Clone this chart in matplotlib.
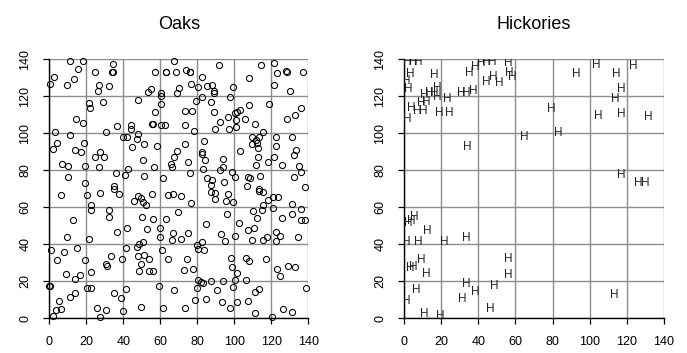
import numpy as np
import matplotlib
matplotlib.use("Agg")
import matplotlib.pyplot as plt

plt.rcParams['font.family'] = ['Liberation Sans', 'DejaVu Sans']

# oak locations (x, y)
oak_x = [
    0.4, 2.7, 11.4, 18, 15.7, 13.3, 9.7, 24.7, 34.4, 34, 34.3, 27, 32, 26.1, 21.6, 21.8, 28.8,
    14.2, 18.2, 3.1, 11.2, 4, 1.8, 13.7, 16.9, 18.7, 30.6, 36.8, 27.4, 24.7, 29.7, 6.7, 10.3,
    19.5, 26.8, 10.3, 19.1, 34.8, 35, 36.2, 40.7, 42.3, 39.8, 42, 44.1, 43.9, 47.6, 47.9, 44.5,
    51.2, 50.5, 51.4, 47.7, 53.5, 54.9, 56.9, 60.5, 60.4, 60.4, 57, 55.5, 55.9, 60.2, 62.7, 58.2,
    56.6, 61.5, 62.9, 63.2, 67.6, 68.7, 73.9, 76, 76.3, 70.1, 68.8, 76.4, 73.2, 77, 79.2, 73.5,
    78.4, 73.5, 68.8, 67.2, 65.9, 66.1, 75.2, 76.1, 80.2,
    82.5, 91.9, 85.4, 87.7, 88.8, 88.8, 99.5, 82.4, 87.4, 97.7, 89, 92.4, 89.4, 96.6, 96.9,
    100.5, 101.3, 103.1, 100.7, 100.7, 105.8, 108.1, 111, 115.3, 118.9, 114.2, 108.1, 121.6,
    123.2, 128.1, 128.3, 137.3, 121.6, 130, 128.5, 132.6, 135.8, 122.7, 131.1, 109.6, 113.2,
    111.7, 109.6, 112.5, 113, 102.9, 112.8, 118, 111.5, 121.6, 122.4, 125.8, 133.4, 132, 135.2,
    135.9, 132.1, 138.1, 114, 107.2, 108.3, 106.9, 100.6, 98.6, 94.4, 92, 93.9, 93.9, 87.7, 87.4,
    85, 82.9, 84.1, 82.4, 82.5, 83.4, 113.5,
    6.3, 20.5, 27.2, 37.7, 22.5, 22.5, 32.4, 32.3, 12.6, 36.6, 41.8, 9.4, 21.3, 1.1, 4, 7.9,
    15.1, 19.5, 22.3, 9.2, 14.1, 16.8, 30.5, 31.4, 33.3, 39.1, 41.6, 0, 0.3, 20.4, 22.7, 41.6,
    35.1, 39, 14.1, 11, 5, 6.1, 3.8, 1.8, 25.6, 27.2, 30.5, 39.8, 49.7, 61.4, 73.3, 78.6, 59.5,
    67.4, 80, 80.2, 48.6, 53.9, 56.2, 49.5, 47.7, 51.4, 53.7, 47.6, 48.6, 50.5, 60.9, 64.3, 60,
    66.3, 67, 71.2, 74.8, 74.2, 73, 77.5, 52.8, 55.9, 59.6, 63.1, 69.5, 50.3, 52.4, 50.8, 45.8,
    47.7, 49.5, 55.3, 64, 66.7, 71.2, 76.6,
    87.2, 89.6, 89.7, 96.4, 95.5, 99.1, 113.3, 115.5, 115.3, 118.4, 120.7, 123.8, 131.1, 136.2,
    131.3, 136, 138.2, 126, 120.9, 114.9, 110.3, 112, 95.9, 102.7, 110.4, 107.2, 84.7, 92.8, 95,
    100.4, 109.3, 115.5, 117.5, 122.5, 124.7, 122.3, 134.6, 80, 80.2, 82.5, 83.8, 98.4, 98.9,
    106.3, 108.1, 116.9, 123.3, 124.7, 129.2, 132.8, 101.3, 82.2, 83.2, 87.4, 94, 100.4, 106.3,
    99.1, 90.4, 111.2, 113.5, 138.7, 84.7, 93.2, 97.5, 101.6, 107.6, 111.3, 120.2, 126.1, 131.4,
]
oak_y = [
    126.5, 130.3, 139.3, 139.3, 135, 129.5, 126, 133, 137.7, 133, 133.2, 126.3, 125.4, 122.7,
    116.4, 113.5, 116.8, 108, 105.4, 100.5, 99.3, 95, 91.4, 90.8, 89.7, 94.8, 100.5, 104.1, 89.7,
    87, 87, 83.2, 82.3, 82.3, 81.8, 76.2, 73.3, 71.7, 69.7, 78.4, 77.7, 80.5, 97.8, 97.8, 104.7,
    102.2, 97.1, 99.5, 92.8, 94.1, 85.6, 76.9, 118.2, 122.5, 123.8, 133.3, 122, 120.4, 115.7,
    111.7, 104.9, 104.9, 104.3, 104.3, 93.2, 81.8, 76, 133.3, 133.4, 139, 133.3, 134, 133.2, 133,
    124.3, 122, 126.7, 111.9, 112.3, 117.3, 104.3, 101.4, 94.4, 90.5, 87, 83.4, 82, 84.3, 78.4,
    125.2,
    130.3, 136.8, 125.8, 126.3, 122.9, 122, 124.9, 119.5, 116.9, 119.5, 111.7, 106.1, 102.2,
    108.8, 102.2, 110.8, 111.7, 112.4, 107.4, 103.2, 107.6, 115.1, 104.9, 100.7, 115.9, 136.8,
    129.7, 138.2, 132.4, 133.5, 133.2, 133, 126, 122.7, 107.6, 109.7, 113.5, 98.2, 97.8, 98.2,
    98.2, 96.2, 94.4, 94.8, 91.9, 90.5, 87.2, 84.3, 82.9, 87.4, 93.3, 82.7, 91, 88.3, 82.5, 79.3,
    76.2, 71.2, 76.9, 76.6, 76, 71.7, 76.6, 79.3, 73.5, 80.2, 81.6, 86.1, 74.8, 72.1, 75.9, 80.5,
    85.6, 90.1, 88.6, 96, 70,
    66.5, 66.8, 67.6, 67, 61.4, 58.7, 58.7, 54.6, 53, 46.5, 48.6, 43.8, 42.7, 36.8, 31.4, 35.9,
    37.8, 31.4, 24.9, 23.8, 21.1, 23.2, 29.4, 28.1, 33.5, 32.1, 37.8, 17.5, 17.2, 16.2, 16.2,
    15.7, 13.5, 11, 13.5, 11.4, 9.2, 5, 4.5, 1.4, 5.6, 0.9, 4.5, 3.8, 5.9, 5.6, 5.8, 9.9, 17.3,
    15.1, 16.2, 20.7, 25.4, 25.6, 25.6, 29.2, 33.9, 34.1, 32.1, 38.4, 40.2, 41.3, 36.8, 31.9,
    44.1, 42.3, 46.3, 42.7, 45.9, 32.3, 25.9, 26.5, 48.1, 53.5, 49, 53.9, 57.3, 55, 61.4, 62.9,
    63.6, 66.1, 64.9, 67.4, 66.8, 67.4, 65.9, 62.2,
    68.3, 67.9, 64.5, 67, 63.2, 62.7, 68.6, 68.1, 61.3, 64, 65.4, 65.4, 61.6, 58.9, 56.2, 53.2,
    53.2, 54.2, 59.6, 58.6, 58.2, 54.1, 56.2, 51.7, 48.6, 47.7, 50.8, 45.8, 41.8, 44.5, 42.3,
    42.3, 44.1, 46.5, 44.5, 41.8, 43.8, 39.6, 37.5, 41.3, 36.8, 32.4, 27.6, 32.4, 31, 32.1, 26.5,
    22.7, 28.1, 27.6, 24.3, 19.6, 19.3, 20, 20, 20.5, 20.7, 17.1, 15.3, 14.1, 15.9, 16.6, 10.5,
    8.6, 5.4, 8.6, 9.2, 2.7, 0.9, 5, 3.2,
]

# hickory locations (x, y)
hick_x = [
    1.6, 4.7, 7.4, 3.3, 1.1, 2, 16.4, 17.9, 11, 13.7, 16.1, 23.3, 18, 9.2, 11.9, 3.8, 7.1, 10.1,
    1.5, 19.1, 24.5, 30.8, 33.5, 37.1, 35.3, 38.4, 41.6, 34.1, 44.3, 47.2, 44.3, 48.1, 51.3, 56,
    56.8, 58.2, 92.6, 103.8, 114.6, 123.3, 117, 114, 79.3, 104.7, 117.3, 131.9, 64.5, 83.3,
    117.1, 126.5, 130.1,
    2, 3.8, 5.2, 12.4, 1.1, 7.4, 21.3, 33.5, 9.4, 4.7, 3, 11.9, 6.7, 1.3, 33.3, 38.4, 31.4,
    48.6, 56.2, 56.2, 46.3, 10.8, 19.3, 113.4,
]
hick_y = [
    138.7, 138.7, 138.7, 132, 128, 124, 131.5, 124.3, 120.7, 121.6, 122, 118.4, 119.8, 116.2,
    117.1, 113.5, 112.3, 112.3, 108, 110.8, 110.8, 121.6, 121.6, 123, 132.8, 136, 137.8, 92.4,
    138.7, 138.7, 127.6, 130.6, 127, 138.2, 132.4, 130.6, 131.9, 136.8, 132.1, 136.4, 123.8,
    118.7, 113.3, 109.2, 110.5, 108.6, 98.2, 100.2, 77.3, 73.3, 73.3,
    51.7, 52.8, 54.6, 47.4, 41.1, 41.1, 41.1, 43.2, 31.5, 27.9, 27, 24, 15.3, 9.2, 18.4, 14.2,
    10.5, 17.5, 31.9, 23.2, 5.2, 2.3, 1.4, 12.4,
]

ticks = [0, 20, 40, 60, 80, 100, 120, 140]

fig = plt.figure(figsize=(6.87, 3.53), dpi=100)
ax1 = fig.add_axes([49.3 / 687, 34.7 / 353, 259 / 687, 259 / 353])
ax2 = fig.add_axes([404.3 / 687, 34.7 / 353, 259.4 / 687, 259 / 353])


def style(ax, title):
    ax.set_xlim(0, 140)
    ax.set_ylim(0, 140)
    ax.set_xticks(ticks)
    ax.set_yticks(ticks)
    ax.grid(True, color='#8c8c8c', linewidth=1.0)
    ax.set_axisbelow(True)
    for s in ['top', 'right']:
        ax.spines[s].set_visible(False)
    for s in ['left', 'bottom']:
        ax.spines[s].set_color('black')
        ax.spines[s].set_linewidth(1.0)
        ax.spines[s].set_zorder(3)
    ax.tick_params(length=4, width=0.9, pad=9, labelsize=9, direction='out')
    for lab in ax.get_yticklabels():
        lab.set_rotation(90)
        lab.set_va('center')
    ax.set_title(title, fontsize=13, pad=22)


ax1.plot(oak_x, oak_y, 'o', markersize=4.4, markerfacecolor='none',
         markeredgecolor='black', markeredgewidth=0.75, clip_on=False, zorder=4)
style(ax1, 'Oaks')

for x, y in zip(hick_x, hick_y):
    ax2.text(x, y, 'H', fontsize=8.5, color='#222222', ha='center', va='center',
             clip_on=True, zorder=4)
style(ax2, 'Hickories')

fig.savefig('out.png', dpi=100)
